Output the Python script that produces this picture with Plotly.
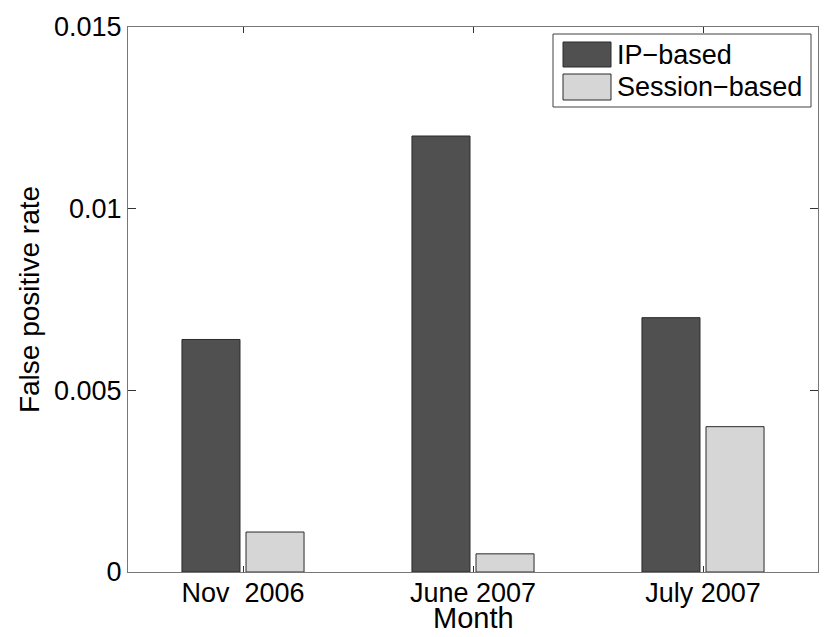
import plotly.graph_objects as go

months = ["Nov  2006", "June 2007", "July 2007"]
series_names = ["IP\u2212based", "Session\u2212based"]
ip_based = [0.0064, 0.0120, 0.0070]
session_based = [0.0011, 0.0005, 0.0040]
y_tick_vals = [0, 0.005, 0.01, 0.015]
y_tick_text = ["0", "0.005", "0.01", "0.015"]
x_title = "Month"
y_title = "False positive rate"

colors = ["#505050", "#d6d6d6"]
FONT = "Liberation Sans, Arial, Helvetica, sans-serif"

W, H = 830, 637
L, R, T, B = 128, 12, 27, 65

fig = go.Figure()
for name, vals, col in zip(series_names, [ip_based, session_based], colors):
    fig.add_trace(go.Bar(
        x=months, y=vals, name=name,
        marker=dict(color=col, line=dict(color="#2a2a2a", width=1)),
        showlegend=False,
    ))

# Custom MATLAB-style legend (paper coords)
pw, ph = W - L - R, H - T - B
def px(x):
    return (x - L) / pw
def py(y):
    return (H - B - y) / ph

shapes = [dict(type="rect", xref="paper", yref="paper",
               x0=px(553), x1=px(811), y0=py(107), y1=py(34),
               line=dict(color="#404040", width=1), fillcolor="white")]
annotations = []
rows = [(42, 67), (74, 100)]
for (y0, y1), name, col in zip(rows, series_names, colors):
    shapes.append(dict(type="rect", xref="paper", yref="paper",
                       x0=px(563), x1=px(611), y0=py(y1), y1=py(y0),
                       line=dict(color="#2a2a2a", width=1), fillcolor=col))
    annotations.append(dict(xref="paper", yref="paper", x=px(615), y=py((y0 + y1) / 2),
                            text=name, showarrow=False, xanchor="left", yanchor="middle",
                            font=dict(size=27, color="black", family=FONT)))

# x-axis title placed as annotation, centred under the plot
annotations.append(dict(xref="paper", yref="paper", x=0.5, y=py(618),
                        text=x_title, showarrow=False, xanchor="center", yanchor="middle",
                        font=dict(size=29, color="black", family=FONT)))

fig.update_layout(
    width=W, height=H,
    margin=dict(l=L, r=R, t=T, b=B, autoexpand=False),
    paper_bgcolor="white", plot_bgcolor="white",
    barmode="group", bargap=0.443, bargroupgap=0.094,
    font=dict(family=FONT, size=27, color="black"),
    shapes=shapes, annotations=annotations,
    xaxis=dict(
        type="category", range=[-0.5, 2.5], automargin=False,
        showline=True, linecolor="#777777", linewidth=1, mirror="ticks",
        ticks="inside", ticklen=6, tickcolor="#333333",
        ticklabelstandoff=-3,
        showgrid=False, zeroline=False,
        tickfont=dict(size=27, color="black"),
    ),
    yaxis=dict(
        range=[0, 0.015], automargin=False,
        tickvals=y_tick_vals, ticktext=y_tick_text,
        showline=True, linecolor="#777777", linewidth=1, mirror="ticks",
        ticks="inside", ticklen=8, tickcolor="#333333",
        showgrid=False, zeroline=False,
        tickfont=dict(size=27, color="black"),
        title=dict(text=y_title, font=dict(size=28, color="black"), standoff=6),
    ),
)

fig.write_html(
    "out.html",
    config={"displayModeBar": False},
    post_script="document.body.style.margin='0';document.body.style.overflow='hidden';",
)
